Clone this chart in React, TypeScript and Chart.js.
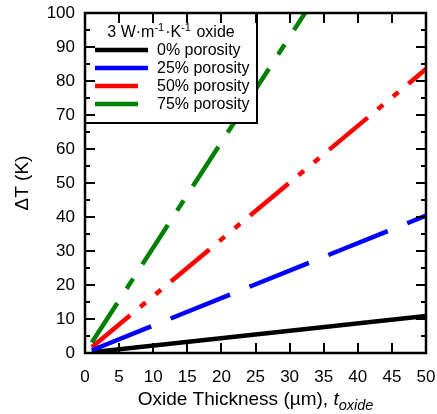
import { useEffect, useRef } from "react";
import { Chart, registerables } from "chart.js";

Chart.register(...registerables);

const thickness = [1, 50];
const seriesLabels = ["0% porosity", "25% porosity", "50% porosity", "75% porosity"];
const deltaT0 = [0.22, 10.9];
const deltaT25 = [0.81, 40.4];
const deltaT50 = [1.67, 83.5];
const deltaT75 = [3.1, 155];
const xTickValues = [0, 5, 10, 15, 20, 25, 30, 35, 40, 45, 50];
const yTickValues = [0, 10, 20, 30, 40, 50, 60, 70, 80, 90, 100];
const legendTitleParts = ["3 W·m", "-1", "·K", "-1", " oxide"];
const xTitleMain = "Oxide Thickness (µm), ";
const xTitleVar = "t";
const xTitleSub = "oxide";
const yTitle = "ΔT (K)";

const colors = ["#000000", "#0000ff", "#ff0000", "#008000"];
const dashes: number[][] = [[], [64, 21], [50, 13, 7, 13, 7, 13], [47, 17, 12, 17]];
const FONT = "'Liberation Sans', Arial, Helvetica, sans-serif";

const decorPlugin = {
  id: "decor",
  afterDatasetsDraw(chart: any) {
    const ctx = chart.ctx as CanvasRenderingContext2D;
    const { left, right, top, bottom } = chart.chartArea;
    const xs = chart.scales.x;
    const ys = chart.scales.y;
    ctx.save();
    // legend box
    const lx0 = left, ly0 = top, lx1 = 257, ly1 = 123;
    ctx.fillStyle = "#fff";
    ctx.fillRect(lx0, ly0, lx1 - lx0, ly1 - ly0);
    ctx.strokeStyle = "#000";
    ctx.lineWidth = 2;
    ctx.strokeRect(lx0, ly0, lx1 - lx0, ly1 - ly0);
    // legend title with superscripts
    const big = `16px ${FONT}`;
    const small = `11px ${FONT}`;
    let total = 0;
    legendTitleParts.forEach((p, i) => {
      ctx.font = i % 2 === 1 ? small : big;
      total += ctx.measureText(p).width + (i % 2 === 1 ? 1 : 0);
    });
    let cx = (lx0 + lx1) / 2 - total / 2;
    ctx.fillStyle = "#000";
    ctx.textBaseline = "alphabetic";
    ctx.textAlign = "left";
    legendTitleParts.forEach((p, i) => {
      const sup = i % 2 === 1;
      ctx.font = sup ? small : big;
      ctx.fillText(p, cx, sup ? 31 : 37);
      cx += ctx.measureText(p).width + (sup ? 1 : 0);
    });
    // legend entries
    const rowY = [50, 68, 86, 104];
    const sampleEnd = [148, 148, 138, 138];
    seriesLabels.forEach((lab, i) => {
      ctx.strokeStyle = colors[i];
      ctx.lineWidth = 4.5;
      ctx.setLineDash([]);
      ctx.beginPath();
      ctx.moveTo(95, rowY[i]);
      ctx.lineTo(sampleEnd[i], rowY[i]);
      ctx.stroke();
      ctx.font = big;
      ctx.fillStyle = "#000";
      ctx.textBaseline = "middle";
      ctx.fillText(lab, 157, rowY[i] + 1);
    });
    // frame
    ctx.strokeStyle = "#000";
    ctx.lineWidth = 2.5;
    ctx.strokeRect(left, top, right - left, bottom - top);
    // ticks
    ctx.lineWidth = 2;
    ctx.beginPath();
    xTickValues.forEach((v, i) => {
      if (i === 0 || i === xTickValues.length - 1) return;
      const px = Math.round(xs.getPixelForValue(v));
      ctx.moveTo(px, bottom);
      ctx.lineTo(px, bottom - 10);
      ctx.moveTo(px, top);
      ctx.lineTo(px, top + 10);
    });
    for (let i = 0; i < yTickValues.length; i++) {
      const v = yTickValues[i];
      const py = Math.round(ys.getPixelForValue(v));
      if (i > 0 && i < yTickValues.length - 1) {
        ctx.moveTo(left, py);
        ctx.lineTo(left + 10, py);
        ctx.moveTo(right, py);
        ctx.lineTo(right - 10, py);
      }
      if (i < yTickValues.length - 1) {
        const mv = (v + yTickValues[i + 1]) / 2;
        const mp = Math.round(ys.getPixelForValue(mv));
        ctx.moveTo(left, mp);
        ctx.lineTo(left + 5, mp);
        ctx.moveTo(right, mp);
        ctx.lineTo(right - 5, mp);
      }
    }
    ctx.stroke();
    ctx.restore();
  },
  afterDraw(chart: any) {
    const ctx = chart.ctx as CanvasRenderingContext2D;
    const { left, right, top, bottom } = chart.chartArea;
    ctx.save();
    ctx.fillStyle = "#000";
    ctx.textBaseline = "alphabetic";
    ctx.textAlign = "left";
    const big = `19px ${FONT}`;
    const ital = `italic 19px ${FONT}`;
    const sub = `italic 14.5px ${FONT}`;
    ctx.font = big;
    const w1 = ctx.measureText(xTitleMain).width;
    ctx.font = ital;
    const w2 = ctx.measureText(xTitleVar).width;
    ctx.font = sub;
    const w3 = ctx.measureText(xTitleSub).width;
    let x = (left + right) / 2 - (w1 + w2 + w3) / 2;
    const base = 405;
    ctx.font = big;
    ctx.fillText(xTitleMain, x, base);
    x += w1;
    ctx.font = ital;
    ctx.fillText(xTitleVar, x, base);
    x += w2;
    ctx.font = sub;
    ctx.fillText(xTitleSub, x, base + 4.5);
    // y title
    ctx.translate(23, (top + bottom) / 2);
    ctx.rotate(-Math.PI / 2);
    ctx.font = big;
    ctx.textAlign = "center";
    ctx.textBaseline = "middle";
    ctx.fillText(yTitle, 0, 0);
    ctx.restore();
  },
};

export default function App() {
  const ref = useRef<HTMLCanvasElement>(null);
  useEffect(() => {
    if (!ref.current) return;
    const series = [deltaT0, deltaT25, deltaT50, deltaT75];
    const orders = [3, 0, 1, 2];
    const chart = new Chart(ref.current, {
      type: "line",
      data: {
        datasets: series.map((vals, i) => ({
          label: seriesLabels[i],
          data: thickness.map((t, j) => ({ x: t, y: vals[j] })),
          borderColor: colors[i],
          backgroundColor: colors[i],
          borderWidth: 4.5,
          borderDash: dashes[i],
          borderCapStyle: "butt" as const,
          pointRadius: 0,
          tension: 0,
          fill: false,
          order: orders[i],
        })),
      },
      options: {
        animation: false,
        responsive: false,
        maintainAspectRatio: false,
        devicePixelRatio: 1,
        layout: { padding: { left: 0, right: 11, top: 13, bottom: 0 } },
        plugins: { legend: { display: false }, tooltip: { enabled: false } },
        scales: {
          x: {
            type: "linear",
            min: 0,
            max: 50,
            afterFit: (s: any) => {
              s.height = 61;
              s.paddingLeft = 0;
              s.paddingRight = 0;
            },
            afterBuildTicks: (s: any) => {
              s.ticks = xTickValues.map((v) => ({ value: v }));
            },
            grid: { display: false, drawTicks: false },
            border: { display: false },
            ticks: {
              color: "#000",
              padding: 14,
              maxRotation: 0,
              autoSkip: false,
              font: { family: FONT, size: 17 },
            },
          },
          y: {
            type: "linear",
            min: 0,
            max: 100,
            afterFit: (s: any) => {
              s.width = 85;
              s.paddingTop = 0;
              s.paddingBottom = 0;
            },
            afterBuildTicks: (s: any) => {
              s.ticks = yTickValues.map((v) => ({ value: v }));
            },
            grid: { display: false, drawTicks: false },
            border: { display: false },
            ticks: {
              color: "#000",
              padding: 10,
              autoSkip: false,
              font: { family: FONT, size: 17 },
            },
          },
        },
      },
      plugins: [decorPlugin],
    });
    return () => chart.destroy();
  }, []);
  return (
    <div style={{ position: "absolute", left: 0, top: 0, width: 437, height: 414, background: "#fff" }}>
      <canvas ref={ref} width={437} height={414} style={{ width: 437, height: 414 }} />
    </div>
  );
}
